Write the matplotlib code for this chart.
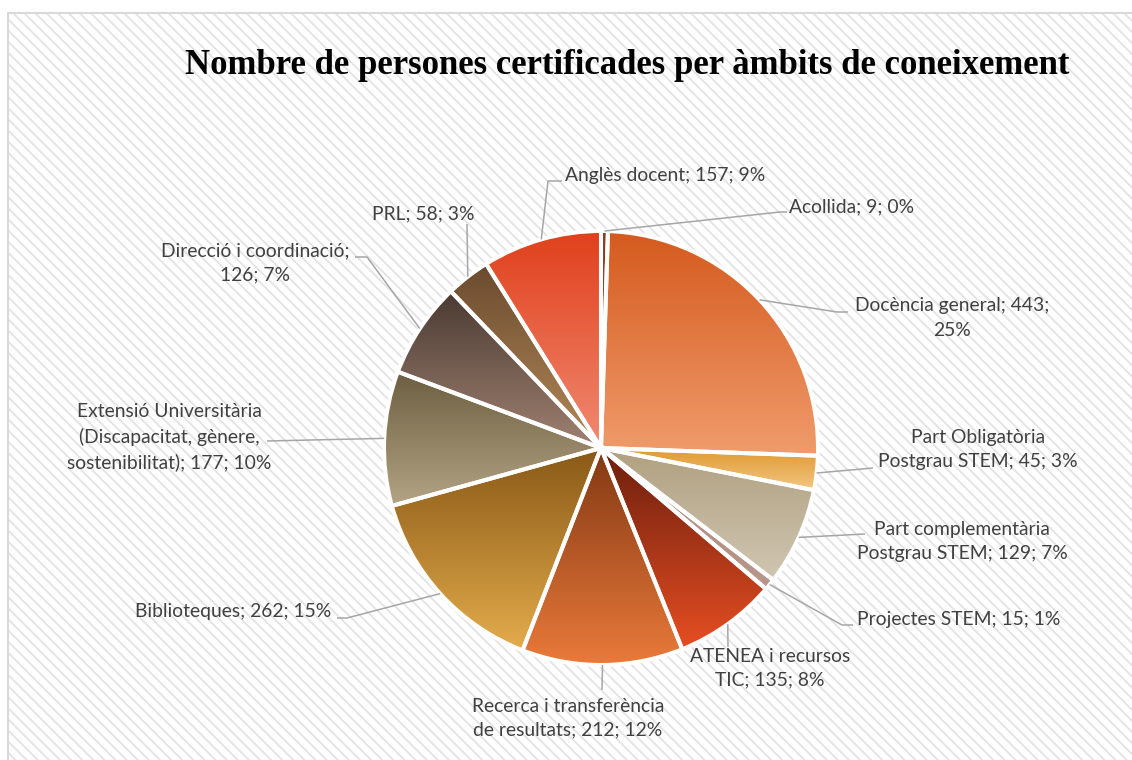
import numpy as np
import matplotlib
matplotlib.use("Agg")
import matplotlib.pyplot as plt
from matplotlib.patches import Rectangle
from matplotlib.colors import to_rgb

# ---------------- data ----------------
categories = ["Acollida", "Docència general", "Part Obligatòria Postgrau STEM",
              "Part complementària Postgrau STEM", "Projectes STEM",
              "ATENEA i recursos TIC", "Recerca i transferència de resultats",
              "Biblioteques", "Extensió Universitària (Discapacitat, gènere, sostenibilitat)",
              "Direcció i coordinació", "PRL", "Anglès docent"]
values = [9, 443, 45, 129, 15, 135, 212, 262, 177, 126, 58, 157]
label_texts = ["Acollida; 9; 0%",
               "Docència general; 443;\n25%",
               "Part Obligatòria\nPostgrau STEM; 45; 3%",
               "Part complementària\nPostgrau STEM; 129; 7%",
               "Projectes STEM; 15; 1%",
               "ATENEA i recursos\nTIC; 135; 8%",
               "Recerca i transferència\nde resultats; 212; 12%",
               "Biblioteques; 262; 15%",
               "Extensió Universitària\n(Discapacitat, gènere,\nsostenibilitat); 177; 10%",
               "Direcció i coordinació;\n126; 7%",
               "PRL; 58; 3%",
               "Anglès docent; 157; 9%"]
title = "Nombre de persones certificades per àmbits de coneixement"

# ---------------- styles ----------------
top_colors = ["#8B3A20", "#D45A1E", "#E09830", "#B0A080", "#B08C80", "#6A1E0E",
              "#823814", "#885816", "#6C5E40", "#4A3A32", "#6A4A2E", "#E0401C"]
bottom_colors = ["#A04A2A", "#F09C6C", "#F2C682", "#D0C6B2", "#B8968A", "#E64E22",
                 "#EA7A3A", "#E4AC4C", "#B4A486", "#A08272", "#B48A5A", "#F08A72"]
text_color = "#404040"
line_color = "#A6A6A6"

W, H = 1132, 760
def P(x, y):
    return (x, H - y)

# label centres (px) and leader-line bend points (px)
label_pos = [(852, 207), (952, 318), (978, 450), (962, 542), (959, 619), (770, 668),
             (568, 718), (233, 612), (169, 437), (255, 263), (423, 214), (665, 176)]
leader_pts = [[(780, 212), (787, 212)],
              [(837, 312), (848, 312)],
              [(873, 468)],
              [(865, 534)],
              [(842, 625), (853, 625)],
              [(728, 647)],
              [(602, 690)],
              [(347, 618), (337, 618)],
              [(267, 441)],
              [(367, 257), (355, 257)],
              [(467, 224)],
              [(548, 181), (562, 181)]]

center_px = (601, 448)
radius = 217

plt.rcParams['hatch.linewidth'] = 1.3
fig = plt.figure(figsize=(W / 100, H / 100), dpi=100)
ax = fig.add_axes([0, 0, 1, 1])

# background with diagonal stripes
bg = Rectangle(P(8, 780), 1200, 780 - 13, facecolor="white", edgecolor="#E3E3E3",
               hatch="\\\\\\", linewidth=0, zorder=0)
ax.add_patch(bg)
border = Rectangle(P(8, 780), 1200, 780 - 13, facecolor="none", edgecolor="#D9D9D9",
                   linewidth=1.5, zorder=0.5)
ax.add_patch(border)

wedges, _ = ax.pie(values, startangle=90, counterclock=False, center=P(*center_px),
                   radius=radius, colors=top_colors,
                   wedgeprops=dict(linewidth=2.9, edgecolor="white", zorder=2))

for w, c0, c1 in zip(wedges, top_colors, bottom_colors):
    ext = w.get_path().get_extents()
    t = np.linspace(0, 1, 256)[:, None, None]
    grad = (1 - t) * np.array(to_rgb(c0))[None, None, :] + t * np.array(to_rgb(c1))[None, None, :]
    im = ax.imshow(grad, extent=(ext.x0, ext.x1, ext.y0, ext.y1), origin="upper",
                   interpolation="bilinear", aspect="auto", zorder=1)
    im.set_clip_path(w)
    w.set_facecolor("none")

# leader lines from wedge mid-angle on the rim
total = sum(values)
cum = np.cumsum([0] + values[:-1])
cx, cy = P(*center_px)
for i, v in enumerate(values):
    frac = (cum[i] + v / 2) / total
    ang = np.deg2rad(90 - 360 * frac)
    ax0 = cx + radius * np.cos(ang)
    ay0 = cy + radius * np.sin(ang)
    xs = [ax0] + [P(*p)[0] for p in leader_pts[i]]
    ys = [ay0] + [P(*p)[1] for p in leader_pts[i]]
    ax.plot(xs, ys, color=line_color, linewidth=1.1, zorder=3, solid_capstyle="butt")

texts = []
for txt, pos in zip(label_texts, label_pos):
    t = ax.text(*P(*pos), txt, ha="center", va="center", multialignment="center",
                color=text_color, fontsize=12, family="Lato", linespacing=1.5, zorder=4)
    texts.append(t)

ttl = ax.text(*P(627, 66), title, ha="center", va="center", fontsize=20,
              family="Liberation Serif", fontweight="bold", color="black", zorder=4)

ax.set_xlim(0, W)
ax.set_ylim(0, H)
ax.set_aspect("auto")
ax.axis("off")

# fit font sizes to the reference widths
fig.canvas.draw()
r = fig.canvas.get_renderer()
wt = ttl.get_window_extent(r).width
ttl.set_fontsize(20 * 887 / wt)
wl = texts[-1].get_window_extent(r).width
fs = 12 * 200 / wl
for t in texts:
    t.set_fontsize(fs)

fig.savefig("out.png", dpi=100, facecolor="white")
